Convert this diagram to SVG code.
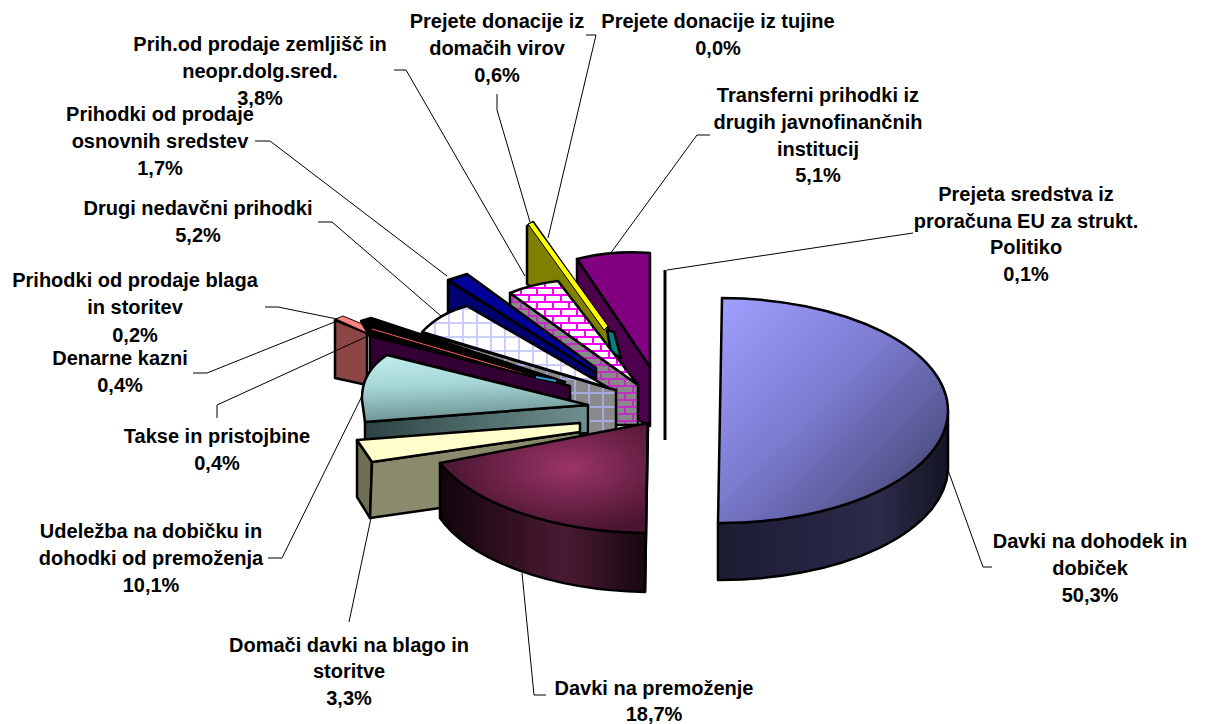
<svg xmlns="http://www.w3.org/2000/svg" width="1207" height="724" viewBox="0 0 1207 724">
<style>
.lbl{font-family:"Liberation Sans",Arial,sans-serif;font-weight:bold;font-size:20px;fill:#000;text-anchor:middle}
.s{stroke:#000;stroke-width:2.5;stroke-linejoin:round}
.ld{fill:none;stroke:#000;stroke-width:1}
</style>
<defs>
<pattern id="grid" width="14" height="14" patternUnits="userSpaceOnUse"><rect width="14" height="14" fill="#fff"/><path d="M0,1H14M1,0V14" stroke="#ccccff" stroke-width="2"/></pattern>
<pattern id="gridGray" width="14" height="14" patternUnits="userSpaceOnUse"><rect width="14" height="14" fill="#8a8a8a"/><path d="M0,1H14M1,0V14" stroke="#a8a8e0" stroke-width="2"/></pattern>
<pattern id="brick" width="16" height="14" patternUnits="userSpaceOnUse"><rect width="16" height="14" fill="#fff"/><path d="M0,1H16M0,8H16M1,1V8M9,8V14" stroke="#ff00ff" stroke-width="2"/></pattern>
<pattern id="brickGray" width="16" height="14" patternUnits="userSpaceOnUse"><rect width="16" height="14" fill="#8a8a8a"/><path d="M0,1H16M0,8H16M1,1V8M9,8V14" stroke="#c030c0" stroke-width="2"/></pattern>
<linearGradient id="blueTop" x1="0" y1="0" x2="1" y2="1"><stop offset="0" stop-color="#a0a0ff"/><stop offset="0.45" stop-color="#7b7bd0"/><stop offset="1" stop-color="#3c3c63"/></linearGradient>
<linearGradient id="blueSide" x1="0" y1="0" x2="1" y2="0"><stop offset="0" stop-color="#1c1c33"/><stop offset="0.7" stop-color="#2b2b4a"/><stop offset="1" stop-color="#141424"/></linearGradient>
<radialGradient id="maroonTop" cx="0.62" cy="0.4" r="0.6"><stop offset="0" stop-color="#9c3468"/><stop offset="1" stop-color="#4a1530"/></radialGradient>
<linearGradient id="maroonSide" x1="0" y1="0" x2="1" y2="0"><stop offset="0" stop-color="#12040b"/><stop offset="0.6" stop-color="#4a1a32"/><stop offset="1" stop-color="#170710"/></linearGradient>
<linearGradient id="cyanTop" x1="0.2" y1="0" x2="0.35" y2="1"><stop offset="0" stop-color="#c0ecec"/><stop offset="0.45" stop-color="#a6d6d6"/><stop offset="1" stop-color="#6a9090"/></linearGradient>
<linearGradient id="cyanSide" x1="0" y1="0" x2="1" y2="0"><stop offset="0" stop-color="#2e4444"/><stop offset="1" stop-color="#6f9090"/></linearGradient>
</defs>
<rect width="1207" height="724" fill="#fff"/>

<g id="slice-transferni">
<polygon class="s" fill="#4d004d" points="577,259 650,367 650,426 638,420 577,300"/>
<path class="s" fill="#800080" d="M577,259 Q612,250 650,253 L650,367 Z"/>
<text class="lbl" x="818" y="102">Transferni prihodki iz</text>
<text class="lbl" x="818" y="129">drugih javnofinančnih</text>
<text class="lbl" x="818" y="156">institucij</text>
<text class="lbl" x="818" y="182">5,1%</text>
</g>

<g id="slice-eu">
<line x1="665" y1="270" x2="665" y2="440" stroke="#000" stroke-width="3"/>
<text class="lbl" x="1026" y="201">Prejeta sredstva iz</text>
<text class="lbl" x="1026" y="228">proračuna EU za strukt.</text>
<text class="lbl" x="1026" y="254">Politiko</text>
<text class="lbl" x="1026" y="281">0,1%</text>
</g>

<g id="slice-domaci-virov">
<polygon class="s" fill="#808000" points="527,226 533,222 608,328 610,352 580,332 532,288 527,284"/>
<polygon fill="#ffff00" stroke="#000" stroke-width="1" points="528,224 533,222 608,326 604,330"/>
<text class="lbl" x="497" y="28">Prejete donacije iz</text>
<text class="lbl" x="497" y="55">domačih virov</text>
<text class="lbl" x="497" y="82">0,6%</text>
</g>

<g id="slice-tujine">
<polygon class="s" fill="#008080" stroke-width="2" points="607,330 614,332 621,358 611,352"/>
<text class="lbl" x="718" y="28">Prejete donacije iz tujine</text>
<text class="lbl" x="718" y="55">0,0%</text>
</g>

<g id="slice-zemljisc">
<polygon class="s" fill="url(#brickGray)" points="510,293 638,385 638,425 600,425 510,306"/>
<path class="s" fill="url(#brick)" d="M510,293 Q532,284 558,281 L638,385 Z"/>
<text class="lbl" x="260" y="51">Prih.od prodaje zemljišč in</text>
<text class="lbl" x="260" y="78">neopr.dolg.sred.</text>
<text class="lbl" x="260" y="105">3,8%</text>
</g>

<g id="slice-osnovna">
<polygon class="s" fill="#00006e" points="448,281 596,373 596,379 448,316"/>
<polygon class="s" fill="#000099" points="448,280 467,274 596,368 596,373"/>
<text class="lbl" x="160" y="121">Prihodki od prodaje</text>
<text class="lbl" x="160" y="148">osnovnih sredstev</text>
<text class="lbl" x="160" y="175">1,7%</text>
</g>

<g id="slice-drugi">
<polygon class="s" fill="url(#gridGray)" points="422,333 608,388 616,390 616,446 570,446 422,343"/>
<path class="s" fill="url(#grid)" d="M422,332 Q440,313 467,306 L609,388 Z"/>
<text class="lbl" x="198" y="215">Drugi nedavčni prihodki</text>
<text class="lbl" x="198" y="242">5,2%</text>
</g>

<g id="slice-blaga">
<polygon class="s" fill="#8c4646" points="335,320 367,333 367,385 335,378"/>
<polygon fill="#ff8080" stroke="#000" stroke-width="1" points="336,319 343,316 372,328 367,333"/>
<text class="lbl" x="135" y="287">Prihodki od prodaje blaga</text>
<text class="lbl" x="135" y="314">in storitev</text>
<text class="lbl" x="135" y="342">0,2%</text>
</g>

<g id="slice-kazni">
<polygon class="s" fill="#000" points="361,321 371,318 565,382 562,387 370,337"/>
<line x1="372" y1="329" x2="535" y2="377" stroke="#ff6060" stroke-width="1"/>
<text class="lbl" x="120" y="365">Denarne kazni</text>
<text class="lbl" x="120" y="392">0,4%</text>
</g>

<g id="slice-takse">
<polygon class="s" fill="#330033" points="370,336 570,386 570,402 370,386"/>
<line x1="536" y1="377" x2="556" y2="381" stroke="#3399cc" stroke-width="2"/>
<text class="lbl" x="217" y="443">Takse in pristojbine</text>
<text class="lbl" x="217" y="470">0,4%</text>
</g>

<g id="slice-udelezba">
<polygon class="s" fill="url(#cyanSide)" points="365,422 588,405 588,433 365,450"/>
<path class="s" fill="url(#cyanTop)" d="M387,355 L588,405 L365,422 L362,400 Q361,372 387,355 Z"/>
<text class="lbl" x="151" y="538">Udeležba na dobičku in</text>
<text class="lbl" x="151" y="565">dohodki od premoženja</text>
<text class="lbl" x="151" y="592">10,1%</text>
</g>

<g id="slice-domaci-davki">
<polygon class="s" fill="#6e6e52" points="357,440 372,462 370,518 357,497"/>
<polygon class="s" fill="#8a8a6c" points="372,462 580,432 580,488 370,518"/>
<polygon class="s" fill="#ffffcc" points="357,440 580,423 580,432 372,462"/>
<text class="lbl" x="349" y="652">Domači davki na blago in</text>
<text class="lbl" x="349" y="678">storitve</text>
<text class="lbl" x="349" y="705">3,3%</text>
</g>

<g id="slice-premozenje">
<path class="s" fill="url(#maroonSide)" d="M440,463 A227,110 0 0 0 646,533 L645,592 A227,110 0 0 1 440,518 Z"/>
<path class="s" fill="url(#maroonTop)" d="M648,423 L440,463 A227,110 0 0 0 646,533 Z"/>
<line x1="648" y1="423" x2="645" y2="592" stroke="#000" stroke-width="2.5"/>
<text class="lbl" x="654" y="695">Davki na premoženje</text>
<text class="lbl" x="654" y="721">18,7%</text>
</g>

<g id="slice-dohodek">
<path class="s" fill="url(#blueSide)" d="M948,411 L948,470 A228,113 0 0 1 718,580 L718,523 A228,113 0 0 0 948,411 Z"/>
<path class="s" fill="url(#blueTop)" d="M722,298 A228,113 0 0 1 948,411 A228,113 0 0 1 718,523 Z"/>
<text class="lbl" x="1090" y="548">Davki na dohodek in</text>
<text class="lbl" x="1090" y="575">dobiček</text>
<text class="lbl" x="1090" y="602">50,3%</text>
</g>

<g id="connectors">
<polyline class="ld" points="586,35 596,35 548,238"/>
<polyline class="ld" points="497,94 497,110 530,222"/>
<polyline class="ld" points="394,70 406,70 525,276"/>
<polyline class="ld" points="255,141 270,141 447,276"/>
<polyline class="ld" points="318,222 332,222 441,316"/>
<polyline class="ld" points="265,307 278,307 337,319"/>
<polyline class="ld" points="193,373 207,373 337,321"/>
<polyline class="ld" points="217,418 217,405 368,336"/>
<polyline class="ld" points="268,558 282,558 362,396"/>
<polyline class="ld" points="349,622 371,518"/>
<polyline class="ld" points="546,695 534,695 522,573"/>
<polyline class="ld" points="992,567 983,567 948,470"/>
<polyline class="ld" points="710,135 697,135 610,254"/>
<polyline class="ld" points="913,233 667,270"/>
</g>
</svg>
